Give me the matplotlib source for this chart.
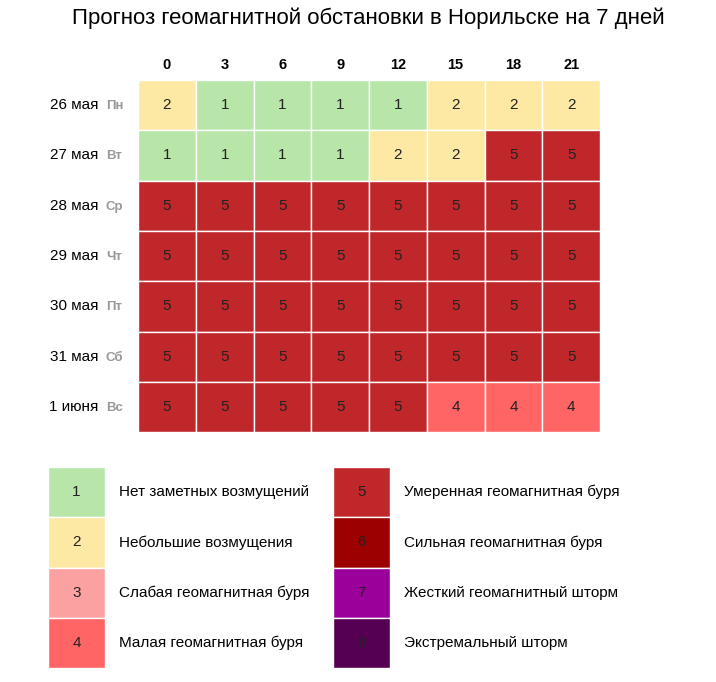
import matplotlib.pyplot as plt
from matplotlib.patches import Rectangle

hours = ['0', '3', '6', '9', '12', '15', '18', '21']
dates = ['26 мая', '27 мая', '28 мая', '29 мая', '30 мая', '31 мая', '1 июня']
weekdays = ['Пн', 'Вт', 'Ср', 'Чт', 'Пт', 'Сб', 'Вс']
kp = [
    [2, 1, 1, 1, 1, 2, 2, 2],
    [1, 1, 1, 1, 2, 2, 5, 5],
    [5, 5, 5, 5, 5, 5, 5, 5],
    [5, 5, 5, 5, 5, 5, 5, 5],
    [5, 5, 5, 5, 5, 5, 5, 5],
    [5, 5, 5, 5, 5, 5, 5, 5],
    [5, 5, 5, 5, 5, 4, 4, 4],
]
levels = [1, 2, 3, 4, 5, 6, 7, 8]
level_names = ['Нет заметных возмущений', 'Небольшие возмущения',
               'Слабая геомагнитная буря', 'Малая геомагнитная буря',
               'Умеренная геомагнитная буря', 'Сильная геомагнитная буря',
               'Жесткий геомагнитный шторм', 'Экстремальный шторм']
colors = {1: '#b8e6a8', 2: '#fde9a4', 3: '#fca1a1', 4: '#ff6565',
          5: '#c0272b', 6: '#9c0000', 7: '#9b009b', 8: '#560054'}

W, H = 716, 682
fig = plt.figure(figsize=(W / 100, H / 100), dpi=100)
ax = fig.add_axes([0, 0, 1, 1])
ax.set_xlim(0, W)
ax.set_ylim(H, 0)
ax.axis('off')

font = 'Liberation Sans'
ax.text(W / 2 + 10, 18, 'Прогноз геомагнитной обстановки в Норильске на 7 дней',
        ha='center', va='center', fontsize=16, family=font)

x0, y0, cw, ch = 138, 80, 57.75, 50.3
for j, h in enumerate(hours):
    ax.text(x0 + (j + 0.5) * cw, 65, h, ha='center', va='center',
            fontsize=10.5, fontweight='bold', family=font)
for i, row in enumerate(kp):
    yc = y0 + (i + 0.5) * ch
    ax.text(98, yc, dates[i], ha='right', va='center', fontsize=11, family=font)
    ax.text(106, yc + 1, weekdays[i], ha='left', va='center', fontsize=9.5,
            fontweight='bold', color='#999999', family=font)
    for j, v in enumerate(row):
        ax.add_patch(Rectangle((x0 + j * cw, y0 + i * ch), cw, ch,
                               facecolor=colors[v], edgecolor='white', lw=1))
        ax.text(x0 + (j + 0.5) * cw, yc, str(v), ha='center', va='center',
                fontsize=11, color='#222222', family=font)

lx = [48, 333]
ly0, lh = 467, 50.3
for k, lev in enumerate(levels):
    c, r = divmod(k, 4)
    y = ly0 + r * lh
    ax.add_patch(Rectangle((lx[c], y), 57, lh, facecolor=colors[lev],
                           edgecolor='white', lw=1))
    ax.text(lx[c] + 28.5, y + lh / 2, str(lev), ha='center', va='center',
            fontsize=11, color='#222222', family=font)
    ax.text(lx[c] + 71, y + lh / 2, level_names[k], ha='left', va='center',
            fontsize=11, family=font)

fig.savefig('out.png', dpi=100)
